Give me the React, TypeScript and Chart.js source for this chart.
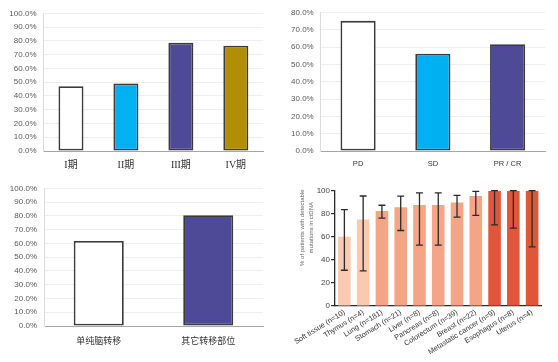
import React, { useEffect, useRef } from "react";
import { Chart, registerables } from "chart.js";

Chart.register(...registerables);

// Panel 1: stage
const stageLabels = ["I期", "II期", "III期", "IV期"];
const stageValues = [47.1, 49.0, 78.6, 76.5];
const stageColors = ["#ffffff", "#00b0f0", "#4f4a98", "#b08f06"];

// Panel 2: response
const responseLabels = ["PD", "SD", "PR / CR"];
const responseValues = [75.3, 56.3, 61.8];
const responseColors = ["#ffffff", "#00b0f0", "#4f4a98"];

// Panel 3: metastasis site
const metLabels = ["单纯脑转移", "其它转移部位"];
const metValues = [61.7, 80.4];
const metColors = ["#ffffff", "#4f4a98"];

// Panel 4: tumour types
const tumorLabels = [
  "Soft tissue (n=10)",
  "Thymus (n=4)",
  "Lung (n=181)",
  "Stomach (n=21)",
  "Liver (n=8)",
  "Pancreas (n=8)",
  "Colorectum (n=39)",
  "Breast (n=22)",
  "Metastatic cancer (n=9)",
  "Esophagus (n=8)",
  "Uterus (n=4)",
];
const tumorValues = [60, 75, 82.3, 85.7, 87.5, 87.5, 89.7, 95.5, 100, 100, 100];
const tumorErrLow = [31, 30.5, 76.3, 65.5, 52.8, 52.8, 77, 78.6, 70.4, 67.6, 51.2];
const tumorErrHigh = [83.5, 95.4, 87.4, 95.3, 98.1, 98.1, 96, 99.4, 100, 100, 100];
const tumorColors = [
  "#f9c9b0", "#f9c9b0",
  "#f3a585", "#f3a585", "#f3a585", "#f3a585", "#f3a585", "#f3a585",
  "#e0563a", "#e0563a", "#e0563a",
];
const tumorYTitle = ["% of patients with detectable", "mutations in ctDNA"];

type PanelProps = {
  labels: string[];
  values: number[];
  colors: string[];
  max: number;
  w: number;
  h: number;
  left: number;
  top: number;
  right: number;
  bottom: number;
  barPct: number;
  xFont: any;
  xPad: number;
};

function PctPanel(p: PanelProps) {
  const ref = useRef<HTMLCanvasElement | null>(null);
  useEffect(() => {
    if (!ref.current) return;
    const chart = new Chart(ref.current, {
      type: "bar",
      data: {
        labels: p.labels,
        datasets: [
          {
            data: p.values,
            backgroundColor: p.colors,
            borderColor: "#3a3a3a",
            borderWidth: 1.8,
            borderSkipped: false,
            barPercentage: p.barPct,
            categoryPercentage: 1,
          },
        ],
      },
      options: {
        responsive: false,
        animation: false,
        layout: { padding: { left: 0, top: p.top, right: p.w - p.right, bottom: 0 } },
        plugins: { legend: { display: false }, tooltip: { enabled: false } },
        scales: {
          x: {
            grid: { display: false, drawTicks: false },
            border: { color: "#a6a6a6", width: 1 },
            ticks: { color: "#333333", font: p.xFont, padding: p.xPad, maxRotation: 0, autoSkip: false },
            afterFit: (s: any) => {
              s.height = p.h - p.bottom;
              s.paddingLeft = 0;
              s.paddingRight = 0;
            },
          },
          y: {
            min: 0,
            max: p.max,
            ticks: {
              stepSize: 10,
              color: "#595959",
              font: { family: "'Liberation Sans', Arial, sans-serif", size: 8 },
              padding: 7,
              callback: (v: any) => Number(v).toFixed(1) + "%",
            },
            grid: { color: "#eeeeee", drawTicks: false },
            border: { color: "#dddddd" },
            afterFit: (s: any) => {
              s.width = p.left;
              s.paddingTop = 0;
              s.paddingBottom = 0;
            },
          },
        },
      } as any,
    });
    return () => chart.destroy();
  }, []);
  return <canvas ref={ref} width={p.w} height={p.h} style={{ width: p.w, height: p.h, display: "block" }} />;
}

const errorBarPlugin = {
  id: "errorBars",
  afterDatasetsDraw(chart: any) {
    const meta = chart.getDatasetMeta(0);
    const y = chart.scales.y;
    const ctx = chart.ctx;
    ctx.save();
    ctx.strokeStyle = "#2a2a2a";
    ctx.lineWidth = 1.3;
    meta.data.forEach((bar: any, i: number) => {
      const x = bar.x;
      const t = y.getPixelForValue(tumorErrHigh[i]);
      const b = y.getPixelForValue(tumorErrLow[i]);
      const cap = bar.width * 0.55;
      ctx.beginPath();
      ctx.moveTo(x, t);
      ctx.lineTo(x, b);
      ctx.moveTo(x - cap / 2, t);
      ctx.lineTo(x + cap / 2, t);
      ctx.moveTo(x - cap / 2, b);
      ctx.lineTo(x + cap / 2, b);
      ctx.stroke();
    });
    ctx.restore();
  },
};

const yTitlePlugin = {
  id: "yTitle",
  afterDraw(chart: any) {
    const { ctx, chartArea } = chart;
    ctx.save();
    ctx.fillStyle = "#666666";
    ctx.font = "6px 'Liberation Sans', Arial, sans-serif";
    ctx.textAlign = "center";
    ctx.textBaseline = "middle";
    ctx.translate(chartArea.left - 32.3, chartArea.top + 37);
    ctx.rotate(-Math.PI / 2);
    tumorYTitle.forEach((line, i) => ctx.fillText(line, 0, i * 9));
    ctx.restore();
  },
};

function TumorPanel() {
  const ref = useRef<HTMLCanvasElement | null>(null);
  const w = 278, h = 187;
  useEffect(() => {
    if (!ref.current) return;
    const chart = new Chart(ref.current, {
      type: "bar",
      data: {
        labels: tumorLabels,
        datasets: [
          {
            data: tumorValues,
            backgroundColor: tumorColors,
            borderWidth: 0,
            barPercentage: 0.67,
            categoryPercentage: 1,
          },
        ],
      },
      options: {
        responsive: false,
        animation: false,
        layout: { padding: { left: 0, top: 15.7, right: w - 261.5, bottom: 0 } },
        plugins: { legend: { display: false }, tooltip: { enabled: false } },
        scales: {
          x: {
            grid: { display: false, drawTicks: false },
            border: { color: "#2a2a2a", width: 1.3 },
            ticks: {
              color: "#333333",
              font: { family: "'Liberation Sans', Arial, sans-serif", size: 7.4 },
              padding: 2,
              minRotation: 32,
              maxRotation: 32,
              autoSkip: false,
            },
            afterFit: (s: any) => {
              s.height = h - 131;
              s.paddingLeft = 0;
              s.paddingRight = 0;
            },
          },
          y: {
            min: 0,
            max: 100,
            ticks: {
              stepSize: 20,
              color: "#444444",
              font: { family: "'Liberation Sans', Arial, sans-serif", size: 8 },
              padding: 1,
            },
            grid: { display: true, drawOnChartArea: false, drawTicks: true, tickLength: 4, color: "#2a2a2a", lineWidth: 1.2 },
            border: { color: "#2a2a2a", width: 1.3 },
            afterFit: (s: any) => {
              s.width = 55;
              s.paddingTop = 0;
              s.paddingBottom = 0;
            },
          },
        },
      } as any,
      plugins: [errorBarPlugin, yTitlePlugin],
    });
    return () => chart.destroy();
  }, []);
  return <canvas ref={ref} width={w} height={h} style={{ width: w, height: h, display: "block" }} />;
}

const latin = { family: "'Liberation Sans', Arial, sans-serif", size: 7.5 };
const roman = { family: "'Liberation Serif', 'Noto Sans CJK SC', serif", size: 10 };
const cjk = { family: "'Noto Sans CJK SC', sans-serif", size: 9 };

export default function App() {
  return (
    <div style={{ position: "fixed", left: 0, top: 0, width: 558, height: 362, background: "#ffffff", overflow: "hidden" }}>
      <div style={{ position: "absolute", left: 0, top: 0 }}>
        <PctPanel labels={stageLabels} values={stageValues} colors={stageColors} max={100}
          w={280} h={180} left={43.5} top={13.3} right={263.3} bottom={151} barPct={0.455} xFont={roman} xPad={8} />
      </div>
      <div style={{ position: "absolute", left: 280, top: 0 }}>
        <PctPanel labels={responseLabels} values={responseValues} colors={responseColors} max={80}
          w={278} h={180} left={40.7} top={12.7} right={265} bottom={151} barPct={0.47} xFont={latin} xPad={8} />
      </div>
      <div style={{ position: "absolute", left: 0, top: 175 }}>
        <PctPanel labels={metLabels} values={metValues} colors={metColors} max={100}
          w={280} h={187} left={44} top={13.3} right={263} bottom={151} barPct={0.457} xFont={cjk} xPad={9} />
      </div>
      <div style={{ position: "absolute", left: 280, top: 175 }}>
        <TumorPanel />
      </div>
    </div>
  );
}
